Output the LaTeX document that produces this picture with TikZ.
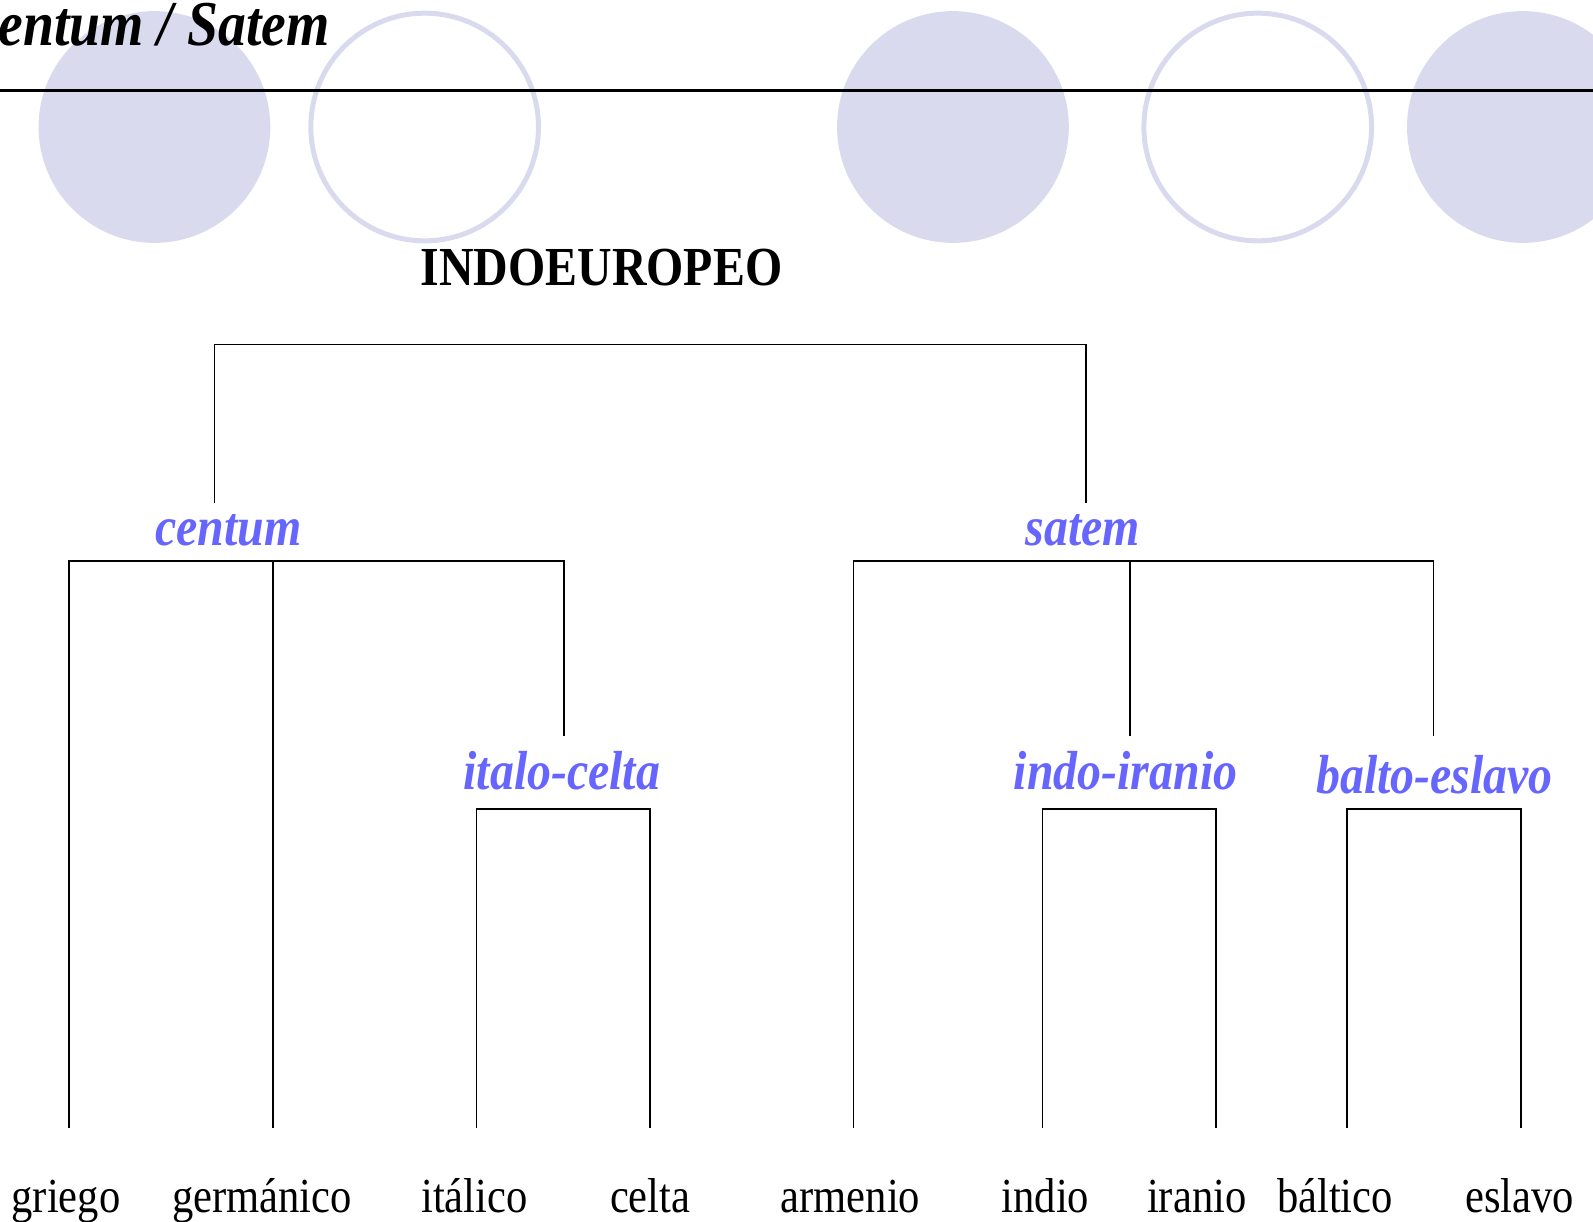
\documentclass[tikz,border=0pt]{standalone}
\usepackage{fontspec}
\setmainfont{Liberation Serif}[FakeStretch=0.87]
\usepackage{tikz}
\usetikzlibrary{positioning,calc}

\definecolor{dotfill}{RGB}{218,218,238}
\definecolor{grouptext}{RGB}{102,102,255}

\begin{document}
\begin{tikzpicture}[x=0.01cm, y=-0.01cm,
      dot/.style={circle, fill=dotfill, minimum size=2.28cm, inner sep=0pt},
      ring/.style={circle, draw=dotfill, line width=1.4pt, minimum size=2.24cm, inner sep=0pt},
      rule/.style={line width=0.6pt, black},
      branch/.style={line width=0.45pt, black},
      grouplabel/.style={anchor=base, inner sep=0pt, text=grouptext,
      font=\fontsize{15.4pt}{18pt}\selectfont\bfseries\itshape},
      leaf/.style={anchor=base, inner sep=0pt, font=\fontsize{13.7pt}{16pt}\selectfont} ]
    \useasboundingbox (0,0) rectangle (1568,1202);

    % Decorative circles
    \node[dot] (d1) at (152,125) {}; \node[ring] (r1) at (418,125) {};
    \node[dot] (d2) at (938,125) {}; \node[ring] (r2) at (1238,125) {};
    \node[dot] (d3) at (1499,125) {};

    % Title and rule
    \draw[rule] (0,89) -- (1568,89);
    \node[anchor=base east, inner sep=0pt,
      font=\fontsize{17.9pt}{21pt}\selectfont\bfseries\itshape] (title) at (325,45)
      {Centum / Satem};

    % Root
    \node[anchor=base, inner sep=0pt, font=\fontsize{15.4pt}{18pt}\selectfont\bfseries]
      (root) at (592,281) {INDOEUROPEO};

    % Group labels
    \node[grouplabel] (centum) at (225,537) {centum};
    \node[grouplabel] (satem) at (1066,537) {satem};
    \node[grouplabel] (italocelta) at (553,777) {italo-celta};
    \node[grouplabel] (indoiranio) at (1108,777) {indo-iranio};
    \node[grouplabel] (baltoeslavo) at (1412,781) {balto-eslavo};

    % Leaves
    \node[leaf] (griego) at (65,1193) {griego};
    \node[leaf] (germanico) at (258,1193) {germánico};
    \node[leaf] (italico) at (467,1193) {itálico};
    \node[leaf] (celta) at (640,1193) {celta};
    \node[leaf] (armenio) at (837,1193) {armenio};
    \node[leaf] (indio) at (1029,1193) {indio};
    \node[leaf] (iranio) at (1178,1193) {iranio};
    \node[leaf] (baltico) at (1314,1193) {báltico};
    \node[leaf] (eslavo) at (1496,1193) {eslavo};

    % Branch ends
    \coordinate (cen-top) at (211,495); \coordinate (sat-top) at (1069,495);
    \coordinate (ic-top) at (555,724); \coordinate (ii-top) at (1112,724);
    \coordinate (be-top) at (1411,724);
    \coordinate (griego-top) at (68,1110); \coordinate (germanico-top) at (269,1110);
    \coordinate (italico-top) at (469,1110); \coordinate (celta-top) at (640,1110);
    \coordinate (armenio-top) at (840,1110); \coordinate (indio-top) at (1026,1110);
    \coordinate (iranio-top) at (1197,1110); \coordinate (baltico-top) at (1326,1110);
    \coordinate (eslavo-top) at (1497,1110);

    % Top split
    \draw[branch] (cen-top) -- ++(0,-156) -| (sat-top);

    % Centum branch
    \draw[branch] (griego-top) -- (griego-top |- 0,552) -| (ic-top);
    \draw[branch] (germanico-top) -- (germanico-top |- 0,552);
    \draw[branch] (italico-top) -- (italico-top |- 0,796) -| (celta-top);

    % Satem branch
    \draw[branch] (armenio-top) -- (armenio-top |- 0,552) -| (be-top);
    \draw[branch] (ii-top) -- (ii-top |- 0,552);
    \draw[branch] (indio-top) -- (indio-top |- 0,796) -| (iranio-top);
    \draw[branch] (baltico-top) -- (baltico-top |- 0,796) -| (eslavo-top);

    \end{tikzpicture}
\end{document}
